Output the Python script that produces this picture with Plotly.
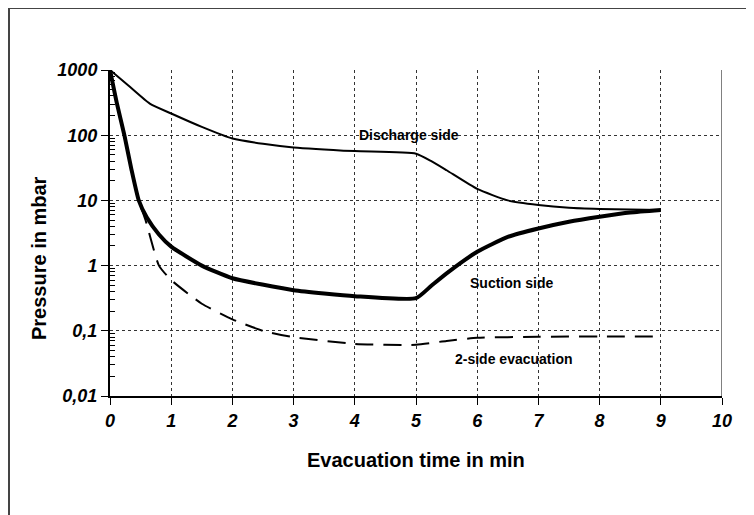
import math
import plotly.graph_objects as go

# ---- data ----
t_discharge = [0, 0.3, 0.65, 1.0, 1.5, 2.0, 2.5, 3.0, 4.0, 5.0, 5.25, 5.5, 6.0, 6.5, 7.0, 7.5, 8.0, 9.0]
p_discharge = [1000, 577, 305, 215, 134, 89, 74, 65, 57, 52, 40, 29, 15, 10, 8.5, 7.7, 7.4, 7.1]

t_suction = [0, 0.11, 0.235, 0.35, 0.47, 0.6, 0.8, 1.0, 1.5, 2.0, 3.0, 4.0, 5.0, 5.25, 5.5, 6.0, 6.5, 7.0, 7.5, 8.0, 8.5, 9.0]
p_suction = [1000, 316, 100, 30, 10, 5.5, 3.0, 1.95, 1.0, 0.64, 0.42, 0.34, 0.316, 0.49, 0.76, 1.63, 2.75, 3.7, 4.7, 5.6, 6.5, 7.1]

t_two_side = [0, 0.11, 0.235, 0.35, 0.47, 0.58, 0.8, 1.0, 1.5, 2.0, 2.5, 3.0, 4.0, 5.0, 5.5, 6.0, 7.0, 8.0, 9.0]
p_two_side = [1000, 316, 100, 30, 10, 5.0, 1.0, 0.6, 0.26, 0.15, 0.1, 0.08, 0.063, 0.061, 0.07, 0.078, 0.081, 0.082, 0.082]

y_tickvals = [0.01, 0.1, 1, 10, 100, 1000]
y_ticktext = ["0,01", "0,1", "1", "10", "100", "1000"]
x_tickvals = [0, 1, 2, 3, 4, 5, 6, 7, 8, 9, 10]
y_minor = [m * 10 ** e for e in range(-2, 3) for m in range(2, 10)]

labels = ["Discharge side", "Suction side", "2-side evacuation"]
label_x = [4.88, 6.56, 6.60]
label_y = [100, 0.547, 0.037]

FONT = "Liberation Sans, Arial, sans-serif"

# plot-area geometry in figure pixels (page is offset by the 8px body margin)
L, R, T, B = 102, 714, 62, 388
W, H = 754, 515
PW, PH = R - L, B - T


def px(x):
    return (x - L) / PW


def py(y):
    return (B - y) / PH


fig = go.Figure()
fig.add_trace(go.Scatter(x=t_discharge, y=p_discharge, mode="lines",
                         line=dict(color="black", width=2, shape="spline", smoothing=0.5),
                         name="Discharge side"))
fig.add_trace(go.Scatter(x=t_suction, y=p_suction, mode="lines",
                         line=dict(color="black", width=4, shape="spline", smoothing=0.5),
                         name="Suction side"))
fig.add_trace(go.Scatter(x=t_two_side, y=p_two_side, mode="lines",
                         line=dict(color="black", width=2, dash="18px,10px", shape="spline", smoothing=0.5),
                         name="2-side evacuation"))

for txt, lx, ly in zip(labels, label_x, label_y):
    fig.add_annotation(x=lx, y=math.log10(ly), yref="y", xref="x", text="<b>%s</b>" % txt,
                       showarrow=False, xanchor="center", yanchor="middle",
                       font=dict(family=FONT, size=14, color="black"))

# axis titles as annotations
fig.add_annotation(xref="paper", yref="paper", x=px(31), y=py(250),
                   text="<b>Pressure in mbar</b>", textangle=-90, showarrow=False,
                   xanchor="center", yanchor="middle",
                   font=dict(family=FONT, size=20, color="black"))
fig.add_annotation(xref="paper", yref="paper", x=0.5, y=py(452),
                   text="<b>Evacuation time in min</b>", showarrow=False,
                   xanchor="center", yanchor="middle",
                   font=dict(family=FONT, size=20, color="black"))

# outer frame
fig.add_shape(type="rect", xref="paper", yref="paper",
              x0=px(1), x1=px(740), y0=py(530), y1=py(0),
              line=dict(color="#444", width=2), layer="below")
# right edge of plot
fig.add_shape(type="line", xref="x", yref="paper", x0=10, x1=10, y0=0, y1=1,
              line=dict(color="black", width=1))

fig.update_xaxes(range=[0, 10], tickvals=x_tickvals, ticks="outside", ticklen=7, tickwidth=1,
                 tickcolor="black", showline=True, linecolor="black", linewidth=2,
                 showgrid=True, gridcolor="#333", griddash="dot", gridwidth=1, zeroline=False,
                 tickfont=dict(family=FONT, size=18, color="black", weight="bold", style="italic"))
fig.update_yaxes(type="log", range=[-2, 3], tickvals=y_tickvals, ticktext=y_ticktext,
                 ticks="outside", ticklen=7, tickwidth=1, tickcolor="black",
                 showline=True, linecolor="black", linewidth=2,
                 showgrid=True, gridcolor="#333", griddash="dot", gridwidth=1, zeroline=False,
                 minor=dict(tickvals=y_minor, ticks="inside", ticklen=5, tickcolor="black", showgrid=False),
                 tickfont=dict(family=FONT, size=18, color="black", weight="bold", style="italic"))

fig.update_layout(width=W, height=H, margin=dict(l=L, r=W - R, t=T, b=H - B),
                  plot_bgcolor="white", paper_bgcolor="white", showlegend=False,
                  font=dict(family=FONT))

fig.write_html("out.html")
